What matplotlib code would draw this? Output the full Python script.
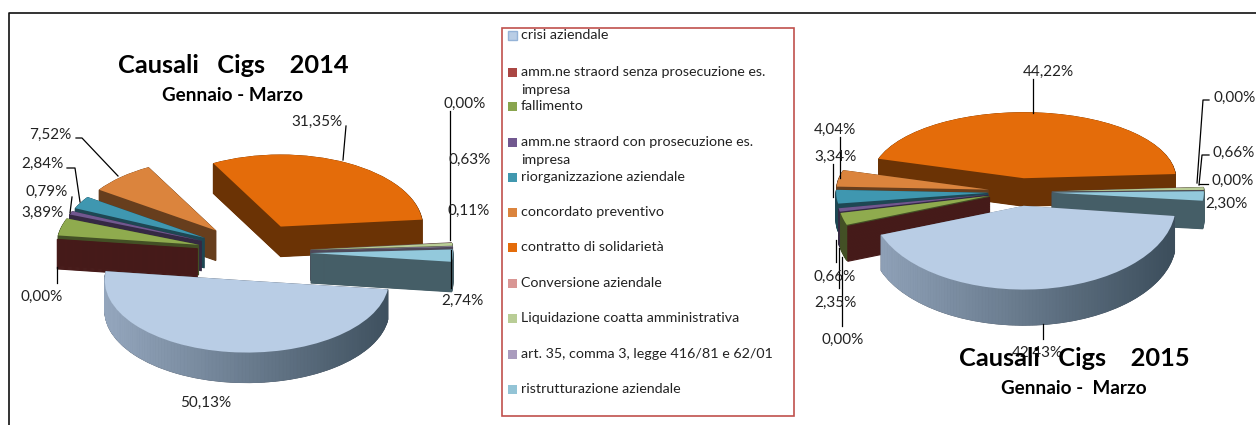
import numpy as np
import matplotlib
matplotlib.use("Agg")
import matplotlib.pyplot as plt
from matplotlib.colors import to_rgb
from matplotlib.patches import Rectangle
from matplotlib.transforms import Affine2D

plt.rcParams['font.family'] = ['Lato', 'DejaVu Sans']

W, H = 1256, 425

causali = ["crisi aziendale",
           "amm.ne straord senza prosecuzione es.\nimpresa",
           "fallimento",
           "amm.ne straord con prosecuzione es.\nimpresa",
           "riorganizzazione aziendale",
           "concordato preventivo",
           "contratto di solidarietà",
           "Conversione aziendale",
           "Liquidazione coatta amministrativa",
           "art. 35, comma 3, legge 416/81 e 62/01",
           "ristrutturazione aziendale"]
valori_2014 = [50.13, 0.00, 3.89, 0.79, 2.84, 7.52, 31.35, 0.00, 0.63, 0.11, 2.74]
valori_2015 = [42.43, 0.00, 2.35, 0.66, 3.34, 4.04, 44.22, 0.00, 0.66, 0.00, 2.30]

colori = ['#B9CDE5', '#953735', '#8FAB4E', '#71588F', '#3F97B0', '#DB843D',
          '#E46C0A', '#D99694', '#B9CD96', '#A99BBD', '#93C9DC']
legend_colori = ['#B9CDE5', '#AA4643', '#89A54E', '#71588F', '#4198AF', '#DB843D',
                 '#E46C0A', '#D99694', '#B9CD96', '#A99BBD', '#93C4D6']
# painter order: back slices first, crisi always on top
ordine = [10, 6, 5, 4, 3, 2, 1, 1, 2, 3, 4]

# label positions in pixels, same order as causali
pos_2014 = [(206, 401), (42, 295), (42, 211), (47, 190), (42, 162), (50, 133),
            (317, 120), (465, 102), (470, 158), (469, 209), (462, 299)]
pos_2015 = [(1037, 351), (843, 338), (835, 301), (835, 275), (835, 155), (835, 128),
            (1048, 70), (1233, 179), (1234, 151), (1235, 96), (1226, 202)]

leader_2014 = [[(450, 111), (450, 240)], [(451, 250), (451, 288)],
               [(346, 126), (343, 160)],
               [(76, 138), (82, 138), (118, 176)],
               [(67, 168), (75, 168), (80, 202)],
               [(72, 197), (70, 213)],
               [(57, 267), (57, 283)]]
leader_2015 = [[(1033, 79), (1033, 113)],
               [(1209, 100), (1203, 100), (1197, 183)],
               [(1209, 155), (1202, 155), (1199, 185)],
               [(1208, 184), (1199, 184)],
               [(840, 137), (840, 178)],
               [(833, 164), (833, 197)],
               [(836, 240), (836, 262)],
               [(839, 248), (839, 288)],
               [(842, 257), (842, 326)],
               [(1043, 324), (1043, 339)]]

legend_y = [35, 72, 106, 142, 177, 212, 247, 283, 318, 354, 389]


def draw_pie(fig, valori, cx, cy, rx, ry, esplodi, start, depth, front_k):
    """3D look: the same pie stacked in layers, top one in the light colours."""
    ax = fig.add_axes([0, 0, 1, 1])
    ax.patch.set_alpha(0)
    n = len(valori)
    scuri = [tuple(c * 0.47 for c in to_rgb(col)) for col in colori]
    d_unit = depth / ry
    n_layers = depth * 2  # half pixel steps, otherwise the zero slices look striped

    for layer in range(n_layers + 1):
        top = layer == n_layers
        wedges, _ = ax.pie(valori, explode=[esplodi] * n, startangle=start, counterclock=False,
                           radius=1, center=(0, -d_unit + d_unit * layer / n_layers),
                           colors=colori if top else scuri,
                           wedgeprops={'linewidth': 0 if top else 0.8})
        if layer == 0:
            apici = [w.center[1] + d_unit for w in wedges]
        for w, z in zip(wedges, ordine):
            w.set_edgecolor(w.get_facecolor())
            w.set_zorder(z + (0.9 if top else 0.4 * layer / n_layers))
        # slices at the front look bigger, perspective of the original
        for i in range(4):
            wedges[i].set_transform(Affine2D().scale(1, front_k).translate(0, apici[i] * (1 - front_k)) + ax.transData)

    # shaded rim of crisi aziendale
    w = wedges[0]
    ang = np.radians(np.linspace(w.theta1, w.theta2, 120))
    xs = w.center[0] + np.cos(ang)
    ys = apici[0] + front_k * np.sin(ang)
    light, dark = np.array(to_rgb('#93A5BC')), np.array(to_rgb('#3C4E5C'))
    for i in range(len(ang) - 1):
        f = np.clip((xs[i] + 1) / 2, 0, 1)
        ax.fill([xs[i], xs[i + 1], xs[i + 1], xs[i]],
                [ys[i], ys[i + 1], ys[i + 1] - d_unit * front_k, ys[i] - d_unit * front_k],
                color=light * (1 - f) + dark * f, linewidth=0.6, zorder=ordine[0] + 0.5)

    ax.set_aspect('auto')
    ax.set_xlim(-cx / rx, (W - cx) / rx)
    ax.set_ylim((cy - H) / ry, cy / ry)
    ax.axis('off')


def fmt(v):
    return f"{v:.2f}%".replace('.', ',')


fig = plt.figure(figsize=(W / 100, H / 100), dpi=100)

draw_pie(fig, valori_2014, 254, 252, 142, 72, 0.4, -7, 30, 1.0)
draw_pie(fig, valori_2015, 1020, 192, 152, 66, 0.21, -7, 28, 1.27)

# overlay in pixel coordinates for frame, labels and legend
over = fig.add_axes([0, 0, 1, 1])
over.patch.set_alpha(0)
over.set_xlim(0, W)
over.set_ylim(H, 0)
over.axis('off')

over.plot([8.5, 8.5, W], [H, 12.5, 12.5], color='#111111', lw=1.2, zorder=1)

for pts in leader_2014 + leader_2015:
    over.plot([p[0] for p in pts], [p[1] for p in pts], color='black', lw=0.9, zorder=2)

for valori, pos in ((valori_2014, pos_2014), (valori_2015, pos_2015)):
    for v, (x, y) in zip(valori, pos):
        over.text(x, y + 1.5, fmt(v), ha='center', va='center', fontsize=11, color='#222222', zorder=3)

over.text(233, 65, "Causali   Cigs    2014", ha='center', va='center', fontsize=18.3, fontweight='bold', zorder=4)
over.text(233, 95, "Gennaio - Marzo", ha='center', va='center', fontsize=13.6, fontweight='bold', zorder=4)
over.text(1074, 358, "Causali   Cigs    2015", ha='center', va='center', fontsize=18.3, fontweight='bold', zorder=4)
over.text(1074, 388, "Gennaio -  Marzo", ha='center', va='center', fontsize=13.6, fontweight='bold', zorder=4)

# legend
over.add_patch(Rectangle((502, 28), 292, 388, facecolor='white', edgecolor='#C0504D', lw=1.2, zorder=3))
for i, (name, col, y) in enumerate(zip(causali, legend_colori, legend_y)):
    over.add_patch(Rectangle((508, y - 4.5), 9, 9, facecolor=col, edgecolor='#95B3D7' if i == 0 else 'none',
                             lw=1, zorder=4))
    over.text(521, y - 6, name, ha='left', va='top', fontsize=10.3, color='#222222',
              linespacing=1.6, zorder=4)

fig.savefig("out.png", dpi=100)
